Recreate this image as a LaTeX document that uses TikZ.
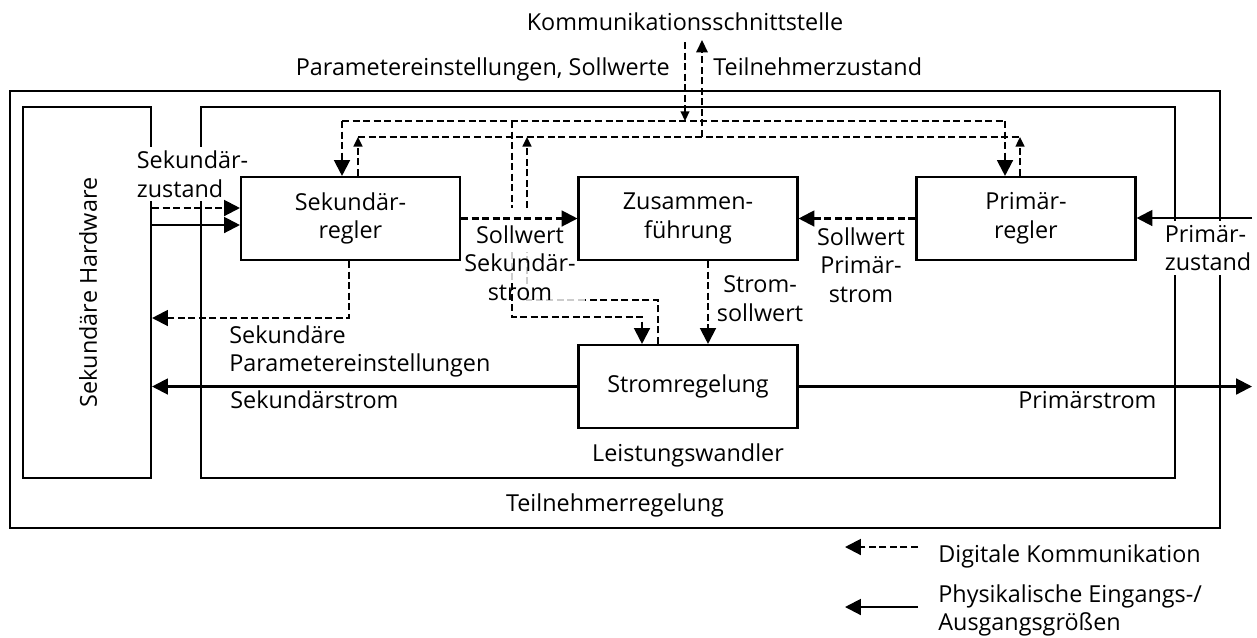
\documentclass[tikz,border=0pt]{standalone}
\usepackage{fontspec}
\setmainfont{Open Sans}
\usetikzlibrary{arrows.meta}

\begin{document}
\begin{tikzpicture}[x=0.02cm, y=-0.02cm, font=\fontsize{13.3}{16.4}\selectfont,
  frame/.style={draw, line width=1.2pt, inner sep=0pt},
  block/.style={draw, line width=1.2pt, minimum width=4.38cm, minimum height=1.66cm, align=center, inner sep=0pt},
  lbl/.style={align=center, inner sep=0pt},
  bigtip/.style={-{Triangle[length=9pt,width=9pt]}},
  smalltip/.style={-{Triangle[length=5.5pt,width=5pt]}},
  phys/.style={line width=1.2pt, bigtip},
  digi/.style={line width=1.2pt, dash pattern=on 4pt off 2pt},
  bus/.style={line width=0.9pt, dash pattern=on 4pt off 2pt},
  faint/.style={bus, gray!40},
]
\useasboundingbox (0,0) rectangle (1257,637);

% Rahmen
\node[frame, minimum width=24.2cm, minimum height=8.74cm] (teilnehmer) at (615,309.5) {};
\node[frame, minimum width=19.48cm, minimum height=7.42cm] (wandler) at (688,292.5) {};
\node[frame, minimum width=2.56cm, minimum height=7.42cm] (hwbox) at (87,292.5) {};
\node[lbl, rotate=90] (hwtext) at (88,292.5) {Sekundäre Hardware};
\node[lbl, fill=white, align=left, inner sep=2pt, anchor=north west] (sekzust) at (133,147) {Sekundär-\\zustand};
\node[lbl, fill=white, align=left, inner sep=2pt, anchor=north west] (primzust) at (1161,221) {Primär-\\zustand};

% Bloecke
\node[block] (sekregler) at (350.5,218.5) {Sekundär-\\regler};
\node[block] (zusammen) at (688,218.5) {Zusammen-\\führung};
\node[block] (primregler) at (1026,218.5) {Primär-\\regler};
\node[block] (stromreg) at (688,386.5) {Stromregelung};

% Hilfspunkte
\coordinate (yzd) at (0,208);
\coordinate (yzs) at (0,225);
\coordinate (spar) at (349,318);
\coordinate (pin) at (1252,218);
\coordinate (pout) at (1252,387);
\coordinate (b1l) at (342,121);
\coordinate (b1m) at (512,121);
\coordinate (b1c) at (685,121);
\coordinate (b1r) at (1005,121);
\coordinate (b2l) at (358,137);
\coordinate (b2m) at (527,137);
\coordinate (b2c) at (702,137);
\coordinate (b2r) at (1020,137);
\coordinate (commin) at (685,42);
\coordinate (commout) at (702,40);

% Verbindungen
\draw[digi, bigtip] (hwbox.east |- yzd) -- (sekregler.west |- yzd);
\draw[phys] (hwbox.east |- yzs) -- (sekregler.west |- yzs);
\draw[digi, bigtip] (sekregler.south -| spar) -- (spar) -- (hwbox.east |- spar);
\draw[phys] (stromreg.west) -- (hwbox.east |- stromreg.west);
\draw[phys] (stromreg.east) -- (pout |- stromreg.east);
\draw[phys] (pin) -- (primregler.east |- pin);
\draw[digi, bigtip] (sekregler.east) -- (zusammen.west);
\draw[digi, bigtip] (primregler.west) -- (zusammen.east);
\draw[digi, bigtip] ([xshift=0.4cm]zusammen.south) -- ([xshift=0.4cm]stromreg.north);

% Kommunikation
\draw[bus, smalltip] (commin) -- (b1c);
\draw[bus, -{Triangle[length=7pt,width=6.5pt]}] (b2c) -- (commout);
\draw[bus] (b1l) -- (b1r);
\draw[bus] (b2l) -- (b2r);
\draw[digi, bigtip] (b1l) -- (sekregler.north -| b1l);
\draw[digi, bigtip] (b1r) -- (primregler.north -| b1r);
\draw[digi, smalltip] (sekregler.north -| b2l) -- (b2l);
\draw[digi, smalltip] (primregler.north -| b2r) -- (b2r);

% Sollwert / Istwert Sekundaerstrom
\draw[bus] (b1m) -- (512,208);
\draw[faint] (512,252) -- (512,283);
\draw[digi, bigtip] (512,283) -- (512,317) -- (642,317) -- (stromreg.north -| 642,0);
\draw[digi] (stromreg.north -| 658,0) -- (658,300) -- (585,300);
\draw[faint] (585,300) -- (527,300) -- (527,252);
\draw[digi, smalltip] (527,208) -- (b2m);

% Beschriftungen
\node[lbl, anchor=base] (comm) at (685,30) {Kommunikationsschnittstelle};
\node[lbl, anchor=base east] (param) at (670,75) {Parametereinstellungen, Sollwerte};
\node[lbl, anchor=base west] (tnzust) at (713,75) {Teilnehmerzustand};
\node[lbl, anchor=north] (swsek) at (520,225) {Sollwert\\Sekundär-\\strom};
\node[lbl, anchor=north] (swprim) at (861,227) {Sollwert\\Primär-\\strom};
\node[lbl, anchor=north] (stromsw) at (760,275) {Strom-\\sollwert};
\node[lbl, align=left, anchor=north west] (sekparam) at (229,325) {Sekundäre\\Parametereinstellungen};
\node[lbl, anchor=base west] (sekstrom) at (230,408) {Sekundärstrom};
\node[lbl, anchor=base west] (primstrom) at (1018,408) {Primärstrom};
\node[lbl, anchor=base] (lwtext) at (688,461) {Leistungswandler};
\node[lbl, anchor=base] (tntext) at (615,511) {Teilnehmerregelung};

% Legende
\coordinate (leg1a) at (918,547);
\coordinate (leg1b) at (845,547);
\coordinate (leg2a) at (918,607);
\coordinate (leg2b) at (845,607);
\draw[digi, bigtip] (leg1a) -- (leg1b);
\draw[phys] (leg2a) -- (leg2b);
\node[lbl, anchor=base west] (legdig) at (938,562) {Digitale Kommunikation};
\node[lbl, align=left, anchor=north west] (legphys) at (938,584) {Physikalische Eingangs-/\\Ausgangsgrößen};

\end{tikzpicture}
\end{document}
